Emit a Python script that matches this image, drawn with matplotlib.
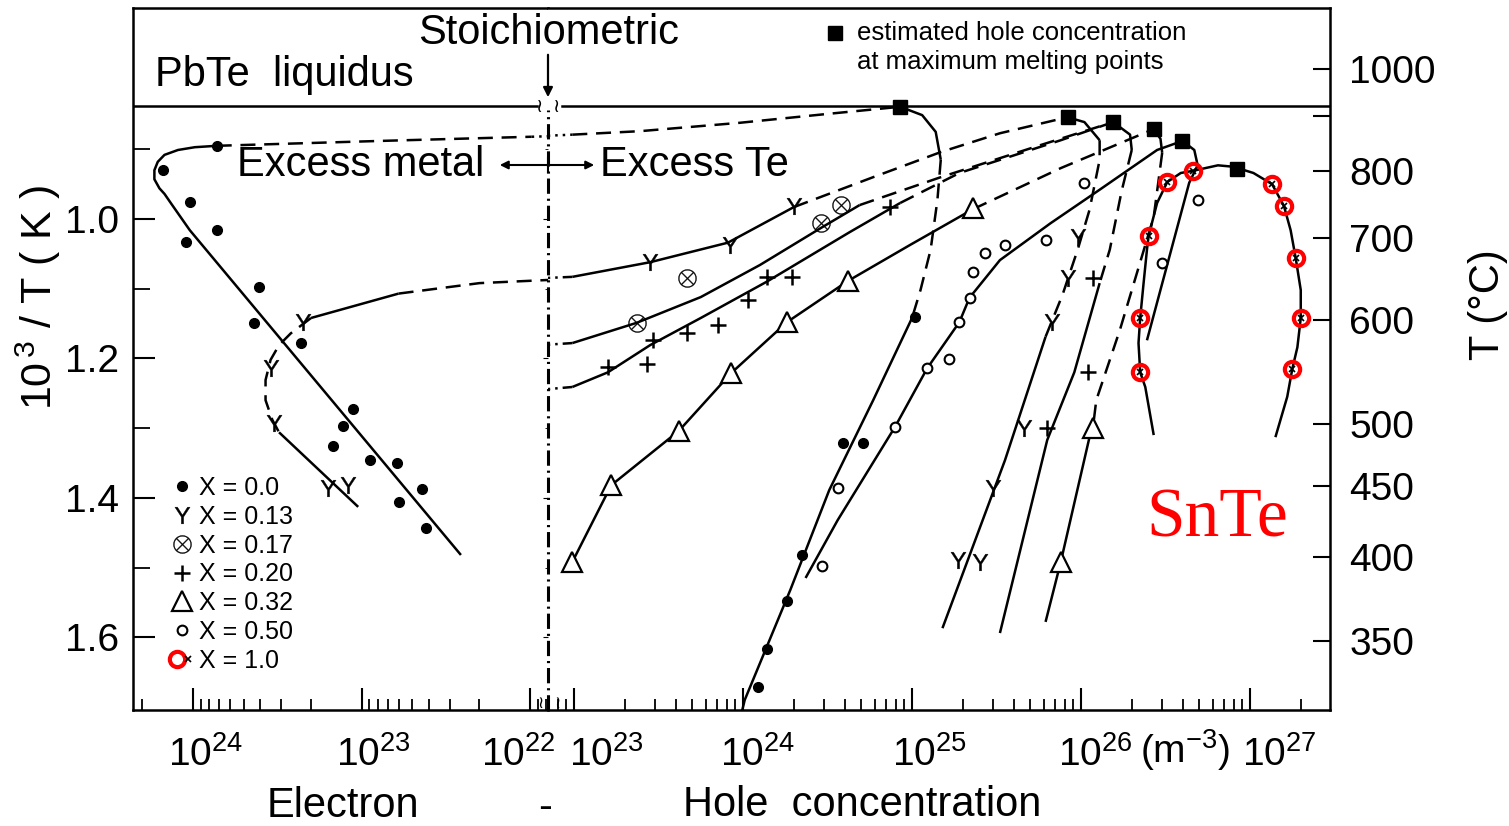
import numpy as np
import matplotlib.pyplot as plt
from matplotlib.lines import Line2D
from matplotlib.patches import FancyArrowPatch
from matplotlib.legend_handler import HandlerTuple
from matplotlib.transforms import ScaledTranslation

plt.rcParams['font.family'] = ['Liberation Sans', 'DejaVu Sans']
plt.rcParams['mathtext.fontset'] = 'custom'
plt.rcParams['mathtext.rm'] = 'Liberation Sans'
plt.rcParams['mathtext.it'] = 'Liberation Sans:italic'

W, H = 1509, 826


def P(px, py):
    # figure fraction from pixel position (origin top left)
    return px / W, 1 - py / H


# ---------------- data ----------------
# concentrations as log10(n / m^-3), temperature as 10^3 / T(K)
liquidus_v = 0.838

# x = 0.0, electron side
x0e_pts_lg = [24.18, 23.86, 24.02, 24.04, 23.86, 23.61, 23.64, 23.36, 23.05, 23.11, 23.17, 22.95, 22.79, 22.64, 22.78, 22.62]
x0e_pts_v = [0.930, 0.895, 0.976, 1.033, 1.016, 1.098, 1.149, 1.178, 1.273, 1.297, 1.326, 1.346, 1.350, 1.387, 1.406, 1.443]
x0e_fit_lg = [23.86, 23.99, 24.09, 24.17, 24.21, 24.23, 24.23, 24.20, 24.17, 24.13, 24.02, 22.41]
x0e_fit_v = [0.895, 0.897, 0.901, 0.908, 0.918, 0.930, 0.943, 0.956, 0.964, 0.978, 1.016, 1.482]
x0e_dash_lg = [23.86, 22.89, 21.99]
x0e_dash_v = [0.895, 0.888, 0.882]
x0e_dot_lg = [21.99, 21.85]
x0e_dot_v = [0.882, 0.881]

# x = 0.0, hole side
x0h_dot_lg = [22.80, 22.99]
x0h_dot_v = [0.881, 0.879]
x0h_dash_lg = [22.99, 23.39, 23.98, 24.51, 24.93]
x0h_dash_v = [0.879, 0.874, 0.862, 0.849, 0.839]
x0h_arc_lg = [24.93, 25.06, 25.14, 25.17]
x0h_arc_v = [0.839, 0.851, 0.875, 0.915]
x0h_down_lg = [25.17, 25.15, 25.11, 25.05, 25.00]
x0h_down_v = [0.915, 0.973, 1.044, 1.102, 1.142]
x0h_fit_lg = [25.00, 24.77, 24.51, 24.28, 24.01, 23.98]
x0h_fit_v = [1.142, 1.260, 1.389, 1.532, 1.690, 1.72]
x0h_pts_lg = [25.02, 24.59, 24.71, 24.35, 24.26, 24.14, 24.09]
x0h_pts_v = [1.141, 1.321, 1.321, 1.482, 1.548, 1.617, 1.671]

# x = 0.13
x13e_pts_lg = [23.35, 23.54, 23.52, 23.20, 23.08]
x13e_pts_v = [1.148, 1.214, 1.293, 1.386, 1.382]
x13e_solid_lg = [23.30, 22.78]
x13e_solid_v = [1.142, 1.107]
x13e_dash_lg = [22.78, 22.30, 21.85]
x13e_dash_v = [1.107, 1.092, 1.087]
x13e_loop_lg = [23.30, 23.42, 23.49, 23.54, 23.57, 23.57, 23.53, 23.49]
x13e_loop_v = [1.142, 1.164, 1.181, 1.202, 1.231, 1.260, 1.288, 1.306]
x13e_low_lg = [23.49, 23.02]
x13e_low_v = [1.306, 1.413]
x13h_dot_lg = [22.80, 22.99]
x13h_dot_v = [1.085, 1.083]
x13h_solid_lg = [22.99, 23.45, 23.91, 24.30]
x13h_solid_v = [1.083, 1.062, 1.034, 0.983]
x13h_dash_lg = [24.30, 24.77, 25.17, 25.52, 25.92]
x13h_dash_v = [0.983, 0.940, 0.904, 0.877, 0.854]
x13h_arc_lg = [25.92, 26.02, 26.11]
x13h_arc_v = [0.854, 0.861, 0.887]
x13h_down_lg = [26.11, 26.11, 26.05, 25.98, 25.89, 25.79]
x13h_down_v = [0.887, 0.915, 0.987, 1.044, 1.109, 1.169]
x13h_fit_lg = [25.79, 25.55, 25.18]
x13h_fit_v = [1.169, 1.346, 1.587]
x13h_pts_lg = [23.45, 23.92, 24.30, 25.98, 25.92, 25.83, 25.66, 25.48, 25.27, 25.40]
x13h_pts_v = [1.062, 1.037, 0.981, 1.026, 1.085, 1.148, 1.300, 1.386, 1.489, 1.492]

# x = 0.17
x17_dot_lg = [22.80, 22.99]
x17_dot_v = [1.181, 1.178]
x17_solid_lg = [22.99, 23.37, 23.75, 24.10, 24.46, 24.69]
x17_solid_v = [1.178, 1.149, 1.112, 1.066, 1.013, 0.980]
x17_dash_lg = [24.69, 25.17, 25.76, 26.19]
x17_dash_v = [0.980, 0.940, 0.894, 0.861]
x17_pts_lg = [23.37, 23.67, 24.46, 24.58]
x17_pts_v = [1.149, 1.085, 1.006, 0.980]

# x = 0.20
x20_dot_lg = [22.80, 22.99]
x20_dot_v = [1.245, 1.241]
x20_solid_lg = [22.99, 23.20, 23.45, 23.75, 24.14, 24.63, 24.93]
x20_solid_v = [1.241, 1.220, 1.181, 1.142, 1.090, 1.019, 0.977]
x20_dash_lg = [24.93, 25.28, 25.88, 26.19]
x20_dash_v = [0.977, 0.934, 0.887, 0.861]
x20_arc_lg = [26.19, 26.29, 26.30]
x20_arc_v = [0.861, 0.879, 0.901]
x20_down_lg = [26.30, 26.24, 26.17, 26.11]
x20_down_v = [0.901, 0.960, 1.044, 1.092]
x20_fit_lg = [26.11, 25.96, 25.80, 25.52]
x20_fit_v = [1.092, 1.220, 1.317, 1.594]
x20_pts_lg = [23.20, 23.43, 23.47, 23.67, 23.85, 24.03, 24.14, 24.29, 24.87, 26.07, 26.04, 25.80]
x20_pts_v = [1.212, 1.208, 1.174, 1.164, 1.152, 1.116, 1.083, 1.083, 0.983, 1.085, 1.220, 1.300]

# x = 0.32
x32_solid_lg = [22.99, 23.22, 23.62, 23.93, 24.26, 24.62, 24.99, 25.36]
x32_solid_v = [1.492, 1.382, 1.304, 1.221, 1.148, 1.089, 1.037, 0.986]
x32_dash_lg = [25.36, 25.88, 26.43]
x32_dash_v = [0.986, 0.927, 0.871]
x32_arc_lg = [26.43, 26.47, 26.48]
x32_arc_v = [0.871, 0.885, 0.905]
x32_down_lg = [26.48, 26.43, 26.23, 26.09, 26.07]
x32_down_v = [0.905, 0.997, 1.159, 1.260, 1.300]
x32_fit_lg = [26.05, 25.88, 25.79]
x32_fit_v = [1.313, 1.492, 1.578]
x32_pts_lg = [22.99, 23.22, 23.62, 23.93, 24.26, 24.62, 25.36, 26.07, 25.88]
x32_pts_v = [1.492, 1.382, 1.304, 1.221, 1.148, 1.089, 0.984, 1.300, 1.492]

# x = 0.50
x50_fit_lg = [24.37, 24.56, 24.90, 25.09, 25.28, 25.34, 25.52, 25.82, 26.11, 26.45, 26.60]
x50_fit_v = [1.515, 1.432, 1.298, 1.214, 1.148, 1.113, 1.059, 1.006, 0.958, 0.901, 0.888]
x50_down_lg = [26.60, 26.67, 26.69, 26.64, 26.39]
x50_down_v = [0.888, 0.901, 0.923, 0.948, 1.174]
x50_pts_lg = [24.47, 24.56, 24.90, 25.09, 25.22, 25.28, 25.34, 25.36, 25.43, 25.55, 25.79, 26.02, 26.69, 26.48]
x50_pts_v = [1.498, 1.386, 1.298, 1.214, 1.201, 1.148, 1.113, 1.076, 1.049, 1.037, 1.030, 0.948, 0.973, 1.063]

# x = 1.0 (SnTe)
x100_fit_lg = [26.43, 26.38, 26.35, 26.34, 26.35, 26.37, 26.39, 26.40, 26.45, 26.51, 26.59, 26.66, 26.81,
               26.90, 27.02, 27.13, 27.20, 27.24, 27.27, 27.30, 27.30, 27.28, 27.25, 27.22, 27.15]
x100_fit_v = [1.310, 1.241, 1.220, 1.178, 1.142, 1.092, 1.044, 1.024, 0.977, 0.947, 0.934, 0.931, 0.923,
              0.925, 0.934, 0.950, 0.981, 1.016, 1.056, 1.102, 1.142, 1.184, 1.215, 1.255, 1.313]
x100_pts_lg = [26.35, 26.35, 26.40, 26.51, 26.66, 27.13, 27.20, 27.27, 27.30, 27.25]
x100_pts_v = [1.220, 1.142, 1.024, 0.947, 0.931, 0.950, 0.981, 1.056, 1.142, 1.215]

# estimated hole concentration at maximum melting points
sq_lg = [24.93, 25.92, 26.19, 26.43, 26.60, 26.92]
sq_v = [0.839, 0.854, 0.861, 0.871, 0.888, 0.928]

legend_labels = ['X = 0.0', 'X = 0.13', 'X = 0.17', 'X = 0.20', 'X = 0.32', 'X = 0.50', 'X = 1.0']
e_ticks = [24, 23, 22]
h_ticks = [23, 24, 25, 26, 27]
v_ticks = [1.0, 1.2, 1.4, 1.6]
v_minor = [0.9, 1.1, 1.3, 1.5]
T_ticks = [1000, 800, 700, 600, 500, 450, 400, 350]
T_minor = [900]

# label nudges (pixels) to sit like the original lettering
e_lab_dx = [12, 12, -12]
h_lab_dx = [32, 15, 17, 14, 29]

# ---------------- styles ----------------
DASH = (0, (6, 3.5))
DOT = (0, (1, 2))
DDOT = (0, (4, 2, 1, 2))
LW = 1.8

M0 = dict(marker='o', ms=7, mfc='k', mec='k')
M13 = dict(marker=r'$\mathregular{Y}$', ms=12, mfc='k', mec='k', mew=0.3)
M17 = dict(marker=r'$\otimes$', ms=13, mfc='k', mec='k', mew=0.3)
M20 = dict(marker='+', ms=11, mew=1.8, mec='k')
M32 = dict(marker='^', ms=14, mfc='white', mec='k', mew=1.6)
M50 = dict(marker='o', ms=7, mfc='white', mec='k', mew=1.5)
M100 = dict(marker='o', ms=11, mfc='none', mec='red', mew=3)
M100x = dict(marker='x', ms=4, mec='k', mew=1.2)


def line(ax, lg, v, ls='-'):
    ax.plot(10 ** np.array(lg), v, color='k', ls=ls, lw=LW,
            solid_capstyle='butt', dash_capstyle='butt')


def pts(ax, lg, v, style):
    ax.plot(10 ** np.array(lg), v, ls='none', zorder=5, **style)


fig = plt.figure(figsize=(15.09, 8.26), dpi=100)
ax1 = fig.add_axes([133 / W, 1 - 710 / H, 415 / W, 702 / H])
ax2 = fig.add_axes([548 / W, 1 - 710 / H, 782 / W, 702 / H], sharey=ax1)

ax1.set_xscale('log')
ax2.set_xscale('log')
ax1.set_xlim(10 ** 24.357, 10 ** 21.893)
ax2.set_xlim(10 ** 22.846, 10 ** 27.473)
ax1.set_ylim(1.7044, 0.6973)

# liquidus (broken at the stoichiometric line)
ax1.axhline(liquidus_v, xmax=0.973, color='k', lw=LW)
ax2.axhline(liquidus_v, xmin=0.018, color='k', lw=LW)

# electron side
line(ax1, x0e_fit_lg, x0e_fit_v)
line(ax1, x0e_dash_lg, x0e_dash_v, DASH)
line(ax1, x0e_dot_lg, x0e_dot_v, DOT)
pts(ax1, x0e_pts_lg, x0e_pts_v, M0)
line(ax1, x13e_solid_lg, x13e_solid_v)
line(ax1, x13e_dash_lg, x13e_dash_v, DASH)
line(ax1, x13e_loop_lg, x13e_loop_v, DASH)
line(ax1, x13e_low_lg, x13e_low_v)
pts(ax1, x13e_pts_lg, x13e_pts_v, M13)

# hole side
line(ax2, x0h_dot_lg, x0h_dot_v, DOT)
line(ax2, x0h_dash_lg, x0h_dash_v, DASH)
line(ax2, x0h_arc_lg, x0h_arc_v)
line(ax2, x0h_down_lg, x0h_down_v, DASH)
line(ax2, x0h_fit_lg, x0h_fit_v)
pts(ax2, x0h_pts_lg, x0h_pts_v, M0)

line(ax2, x13h_dot_lg, x13h_dot_v, DDOT)
line(ax2, x13h_solid_lg, x13h_solid_v)
line(ax2, x13h_dash_lg, x13h_dash_v, DASH)
line(ax2, x13h_arc_lg, x13h_arc_v)
line(ax2, x13h_down_lg, x13h_down_v, DASH)
line(ax2, x13h_fit_lg, x13h_fit_v)
pts(ax2, x13h_pts_lg, x13h_pts_v, M13)

line(ax2, x17_dot_lg, x17_dot_v, DDOT)
line(ax2, x17_solid_lg, x17_solid_v)
line(ax2, x17_dash_lg, x17_dash_v, DASH)
pts(ax2, x17_pts_lg, x17_pts_v, M17)

line(ax2, x20_dot_lg, x20_dot_v, DDOT)
line(ax2, x20_solid_lg, x20_solid_v)
line(ax2, x20_dash_lg, x20_dash_v, DASH)
line(ax2, x20_arc_lg, x20_arc_v)
line(ax2, x20_down_lg, x20_down_v, DASH)
line(ax2, x20_fit_lg, x20_fit_v)
pts(ax2, x20_pts_lg, x20_pts_v, M20)

line(ax2, x32_solid_lg, x32_solid_v)
line(ax2, x32_dash_lg, x32_dash_v, DASH)
line(ax2, x32_arc_lg, x32_arc_v)
line(ax2, x32_down_lg, x32_down_v, DASH)
line(ax2, x32_fit_lg, x32_fit_v)
pts(ax2, x32_pts_lg, x32_pts_v, M32)

line(ax2, x50_fit_lg, x50_fit_v)
line(ax2, x50_down_lg, x50_down_v)
pts(ax2, x50_pts_lg, x50_pts_v, M50)

line(ax2, x100_fit_lg, x100_fit_v)
pts(ax2, x100_pts_lg, x100_pts_v, M100)
pts(ax2, x100_pts_lg, x100_pts_v, M100x)

ax2.plot(10 ** np.array(sq_lg), sq_v, ls='none', marker='s', ms=10, color='k', zorder=6)

# stoichiometric line
fig.add_artist(Line2D([P(548, 0)[0]] * 2, [P(0, 710)[1], P(0, 110)[1]], color='k',
                      lw=2.2, ls=(0, (5, 1.6, 0.7, 1.6))))
fig.add_artist(FancyArrowPatch(P(548, 52), P(548, 100), transform=fig.transFigure,
                               arrowstyle='-|>', mutation_scale=14, lw=1.6, color='k'))
for px in (540, 557):
    fig.text(*P(px, 106), '\u2240', fontsize=14, ha='center', va='center', family='DejaVu Sans')
    fig.text(*P(px, 703), '\u2240', fontsize=12, ha='center', va='center', family='DejaVu Sans')

# axes, ticks
for ax in (ax1, ax2):
    for s in ax.spines.values():
        s.set_linewidth(1.8)
ax1.spines['right'].set_visible(False)
ax2.spines['left'].set_visible(False)

ax1.set_xticks([10.0 ** k for k in e_ticks], [r'$\mathregular{10^{%d}}$' % k for k in e_ticks])
ax2.set_xticks([10.0 ** k for k in h_ticks], [r'$\mathregular{10^{%d}}$' % k for k in h_ticks])
for ax in (ax1, ax2):
    ax.xaxis.set_minor_formatter(plt.NullFormatter())
    ax.tick_params(axis='x', which='major', direction='in', length=16, width=1.5,
                   pad=19, labelsize=28)
    ax.tick_params(axis='x', which='minor', direction='in', length=8, width=1.3)
for ax, shifts in ((ax1, e_lab_dx), (ax2, h_lab_dx)):
    for lab, dx in zip(ax.get_xticklabels(), shifts):
        lab.set_transform(lab.get_transform() + ScaledTranslation(dx / 100, 0, fig.dpi_scale_trans))

ax1.set_yticks(v_ticks, ['%.1f' % t for t in v_ticks])
ax1.set_yticks(v_minor, minor=True)
ax1.tick_params(axis='y', which='major', direction='in', length=16, width=1.5, pad=10, labelsize=28)
ax1.tick_params(axis='y', which='minor', direction='in', length=12, width=1.3)
ax2.tick_params(axis='y', which='both', left=False, labelleft=False)

ax3 = ax2.twinx()
ax3.set_ylim(ax1.get_ylim())
ax3.set_yticks([1000 / (t + 273.15) for t in T_ticks], [str(t) for t in T_ticks])
ax3.set_yticks([1000 / (t + 273.15) for t in T_minor], minor=True)
ax3.tick_params(axis='y', which='both', direction='in', length=12, width=1.5, pad=14, labelsize=28)
for s in ax3.spines.values():
    s.set_visible(False)

# texts
fig.text(*P(549, 33), 'Stoichiometric', fontsize=30, ha='center', va='center')
fig.text(*P(155, 75), 'PbTe  liquidus', fontsize=30, ha='left', va='center')
fig.text(*P(237, 165), 'Excess metal', fontsize=30, ha='left', va='center')
fig.text(*P(600, 165), 'Excess Te', fontsize=30, ha='left', va='center')
fig.add_artist(FancyArrowPatch(P(497, 165), P(597, 165), transform=fig.transFigure,
                               arrowstyle='<|-|>', mutation_scale=12, lw=1.5, color='k'))
fig.add_artist(Line2D([P(548, 0)[0]] * 2, [P(0, 158)[1], P(0, 172)[1]], lw=1.5, color='k'))
fig.add_artist(Line2D([P(835, 0)[0]], [P(0, 33)[1]], marker='s', ms=10, color='k'))
fig.text(*P(857, 33), 'estimated hole concentration', fontsize=18.5, ha='left', va='center')
fig.text(*P(857, 62), 'at maximum melting points', fontsize=18.5, ha='left', va='center')

fig.text(*P(38, 298), r'10$^{\,3}$ / T ( K )', fontsize=31, rotation=90, ha='center', va='center')
fig.text(*P(1488, 305), 'T (°C)', fontsize=30, rotation=90, ha='center', va='center')
fig.text(*P(343, 806), 'Electron', fontsize=30, ha='center', va='center')
fig.text(*P(545, 808), '-', fontsize=30, ha='center', va='center')
fig.text(*P(862, 805), 'Hole  concentration', fontsize=30, ha='center', va='center')
fig.text(*P(1185, 750), r'(m$^{-3}$)', fontsize=28, ha='center', va='center')
fig.text(*P(1217, 520), 'SnTe', fontsize=50, color='red', family='Liberation Serif',
         ha='center', va='center')

# legend
handles = [Line2D([], [], ls='none', **M0), Line2D([], [], ls='none', **M13),
           Line2D([], [], ls='none', **M17), Line2D([], [], ls='none', **M20),
           Line2D([], [], ls='none', **M32), Line2D([], [], ls='none', **M50),
           (Line2D([], [], ls='none', **M100), Line2D([], [], ls='none', **M100x))]
ax1.legend(handles, legend_labels, loc='upper left', bbox_to_anchor=(0.092, 0.333),
           frameon=False, fontsize=18, handlelength=0.9, handletextpad=0.2,
           labelspacing=0.19, borderaxespad=0, borderpad=0,
           handler_map={tuple: HandlerTuple(ndivide=None)})

fig.savefig('out.png', dpi=100)
